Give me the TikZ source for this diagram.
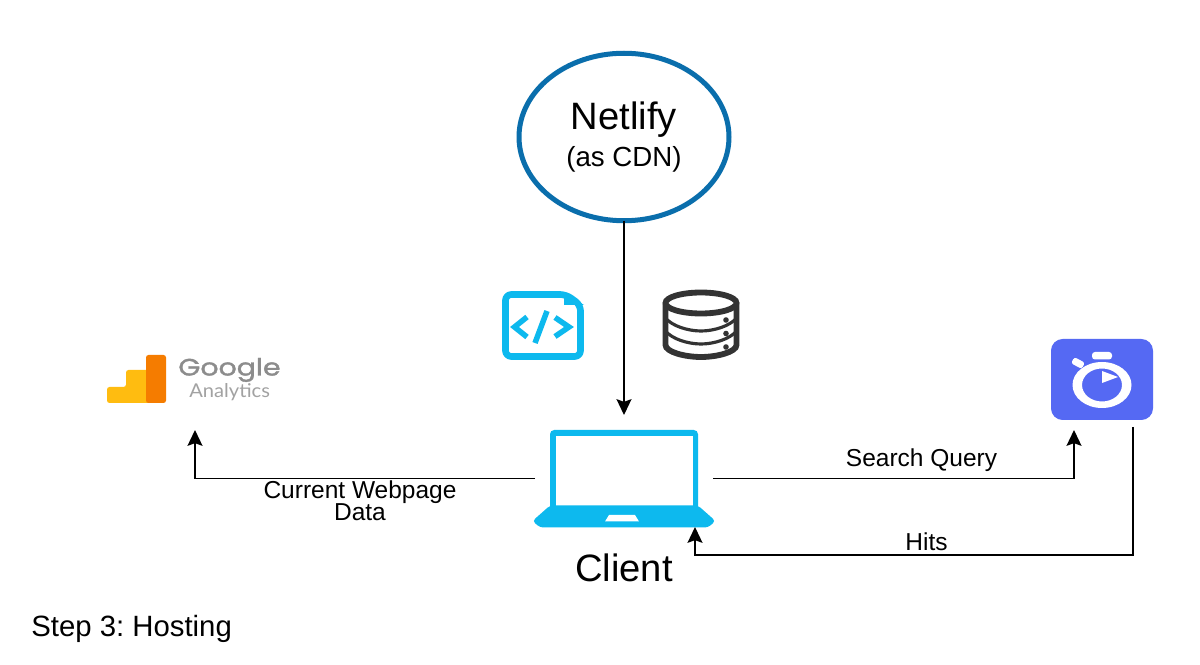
\documentclass[tikz,border=0pt]{standalone}
\usepackage{fontspec}
\setmainfont{Liberation Sans}
\newfontfamily\gfont{Poppins}[FakeStretch=1.2,BoldFont=Poppins,BoldFeatures={FakeBold=1.5,FakeStretch=1.2}]
\newfontfamily\afont{Lato}[FakeStretch=1.06]
\usetikzlibrary{arrows.meta,shapes.geometric}
\definecolor{skyc}{HTML}{0DB9EE}
\definecolor{ringc}{HTML}{0A6EAC}
\definecolor{timerc}{HTML}{5569F3}
\definecolor{dbc}{HTML}{333333}
\definecolor{gyel}{HTML}{FFBC10}
\definecolor{gora}{HTML}{F57C00}
\definecolor{ggray}{HTML}{8C8C8C}
\definecolor{agray}{HTML}{A2A2A2}
\tikzset{
  conn/.style={draw=black,line width=1pt,-{Stealth[length=9.5pt,width=9pt,inset=1.6pt]}},
  lbl/.style={inner sep=0,font=\fontsize{14.7}{13.2}\selectfont,align=center},
  box/.style={inner sep=0,outer sep=0,minimum width=#1},
  ring/.style={ellipse,draw=ringc,line width=3pt,inner sep=0,outer sep=0,minimum width=126pt,minimum height=100.5pt,align=center}
}
\begin{document}
\frenchspacing
\begin{tikzpicture}[x=0.6pt,y=-0.6pt]
\useasboundingbox (0,0) rectangle (1200,665);
\fill[white] (0,0) rectangle (1200,665);
% anchor nodes
\node[ring] (netlify) at (624,137) {\fontsize{22.9}{22}\selectfont Netlify\\[4.5pt]\fontsize{16.6}{22}\selectfont (as CDN)};
\node[box=106.8pt,minimum height=58.2pt] (laptop) at (624,478.5) {};
\node[box=106.8pt,minimum height=48pt] (ga) at (195,390) {};
\node[box=61.2pt,minimum height=48.6pt] (timer) at (1102,379.5) {};
\coordinate (netin) at (624,415);
\coordinate (searchin) at (1074,430);
\coordinate (hitsout) at (1133,427);
\coordinate (hitsin) at (695,527);
% laptop
\fill[skyc,rounded corners=2.5pt] (550,510) -- (550,430) -- (698,430) -- (698,510) -- cycle;
\fill[white] (556,436) rectangle (693,506);
\fill[skyc,rounded corners=2pt] (550,505.5) -- (698,505.5) -- (715.5,521) -- (708,527.5) -- (540,527.5) -- (532.5,521) -- cycle;
\fill[white] (609,515) -- (635,515) -- (639,521.5) -- (605,521.5) -- cycle;
% doc icon
\draw[skyc,line width=4pt,line join=round,rounded corners=3.5pt] (505.5,294.5) -- (566,294.5) -- (580.5,305) -- (580.5,356.5) -- (505.5,356.5) -- cycle;
\fill[skyc] (564,292) -- (584,305) -- (564,305) -- cycle;
\draw[skyc,line width=3.3pt] (527,317) -- (514.5,327) -- (527,337);
\draw[skyc,line width=3.3pt] (547,311) -- (535,343);
\draw[skyc,line width=3.3pt] (555,317.5) -- (569,327) -- (555,336.5);
% database
\begin{scope}[draw=dbc,line width=3.5pt]
\draw (665.5,304) -- (665.5,345) .. controls (665.5,352) and (685,357) .. (701,357) .. controls (717,357) and (736.5,352) .. (736.5,345) -- (736.5,304);
\draw (701,303) circle[x radius=35.5,y radius=10.5];
\end{scope}
\draw[dbc,line width=1.9pt] (665.5,318) .. controls (672,326) and (688,331) .. (701,331) .. controls (714,331) and (730,326) .. (736.5,318);
\draw[dbc,line width=1.9pt] (665.5,331) .. controls (672,339) and (688,344) .. (701,344) .. controls (714,344) and (730,339) .. (736.5,331);
\fill[dbc] (726,320) circle[radius=2.8] (726,333.5) circle[radius=2.8] (726,347) circle[radius=2.8];
% google analytics
\fill[gyel,rounded corners=1.5pt] (107,403) -- (107,387) -- (126,387) -- (126,370) -- (150,370) -- (150,403) -- cycle;
\fill[gora,rounded corners=1.5pt] (146,403) -- (146,355) -- (166,355) -- (166,403) -- cycle;
\node[anchor=base west,inner sep=0,text=ggray,font=\gfont\bfseries\fontsize{14.2}{15}\selectfont] (gword) at (178,375.5) {Google};
\node[anchor=base west,inner sep=0,text=agray,font=\afont\fontsize{11.4}{12}\selectfont] (aword) at (189,398) {Analytics};
% stopwatch
\fill[timerc,rounded corners=7pt] (1051,339) rectangle (1153,420);
\fill[white,rounded corners=1.8pt] (1092,352) rectangle (1112,359.5);
\fill[white,rounded corners=1.5pt,rotate around={-28:(1078,363)}] (1072,359.5) rectangle (1084,366.5);
\fill[white,even odd rule] (1102,385) circle[x radius=29.5,y radius=23] (1102,385) circle[x radius=20,y radius=16.5];
\fill[white] (1102,371) -- (1118,377) -- (1102,383) -- cycle;
% connectors
\draw[conn] (netlify.south) -- (netin);
\draw[conn] (laptop.west) -| (ga.south);
\draw[conn] (laptop.east) -| (searchin);
\draw[conn] (hitsout) |- (695,555) -- (hitsin);
% labels
\node[lbl] (webdata) at (360,501) {Current Webpage\\Data};
\node[lbl] (searchq) at (921.5,460) {Search Query};
\node[lbl] (hits) at (926.5,542) {Hits};
\node[anchor=base,inner sep=0,font=\fontsize{22.9}{24}\selectfont] (client) at (624,582) {Client};
\node[anchor=base west,inner sep=0,font=\fontsize{17.6}{18}\selectfont] (step) at (31,636) {Step 3: Hosting};
\end{tikzpicture}
\end{document}
